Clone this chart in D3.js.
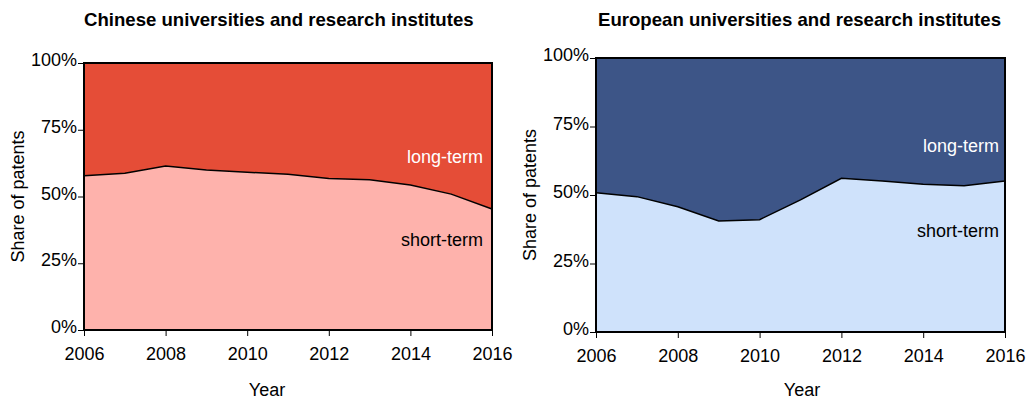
<!DOCTYPE html>
<html>
<head>
<meta charset="utf-8">
<script src="https://cdn.jsdelivr.net/npm/d3@7"></script>
<style>
    body { margin: 0; background: #fff; }
    text { font-family: "Liberation Sans", Arial, Helvetica, sans-serif; }
</style>
</head>
<body>
<script>

    // values: share of short-term patents per year
    var years = [2006, 2007, 2008, 2009, 2010, 2011, 2012, 2013, 2014, 2015, 2016];
    var chinaShort  = [57.8, 58.7, 61.4, 59.9, 59.1, 58.3, 56.7, 56.3, 54.3, 50.9, 45.3];
    var europeShort = [50.8, 49.4, 45.7, 40.5, 41.0, 48.2, 56.1, 55.1, 53.9, 53.4, 55.1];

    var xTicks = [2006, 2008, 2010, 2012, 2014, 2016];
    var yTicks = [0, 25, 50, 75, 100];
    var seriesNames = ["short-term", "long-term"];

    var panels = [
        {title: "Chinese universities and research institutes", values: chinaShort,
         left: 84, right: 492, top: 63, bottom: 330, yearX: 267, titleX: 84,
         colShort: "#FEB2AC", colLong: "#E54D37", longY: 163, shortY: 246, labelX: 483},
        {title: "European universities and research institutes", values: europeShort,
         left: 596, right: 1005, top: 58, bottom: 332, yearX: 802, titleX: 598,
         colShort: "#CFE2FB", colLong: "#3D5587", longY: 152, shortY: 237, labelX: 999}
    ];

    var svg = d3.select("body").append("svg")
                .attr("width", 1026)
                .attr("height", 402);

    panels.forEach(function(p) {

        var x = d3.scaleLinear()
                    .domain([2006, 2016])
                    .range([p.left, p.right]);

        var y = d3.scaleLinear()
                    .domain([0, 100])
                    .range([p.bottom, p.top]);

        var rows = years.map(function(yr, i) {
            return {year: yr, short: p.values[i], long: 100 - p.values[i]};
        });

        var stack = d3.stack().keys(["short", "long"]);
        var layers = stack(rows);

        var area = d3.area()
                    .x(function(d) { return x(d.data.year); })
                    .y0(function(d) { return y(d[0]); })
                    .y1(function(d) { return y(d[1]); });

        var g = svg.append("g");

        g.selectAll(".layer")
            .data(layers)
            .enter()
            .append("path")
            .attr("class", "layer")
            .attr("d", area)
            .attr("fill", function(d, i) { return i == 0 ? p.colShort : p.colLong; });

        // boundary between the two shares
        var line = d3.line()
                    .x(function(d) { return x(d.year); })
                    .y(function(d) { return y(d.short); });

        g.append("path")
            .datum(rows)
            .attr("d", line)
            .attr("fill", "none")
            .attr("stroke", "#000")
            .attr("stroke-width", 1.5);

        // frame
        g.append("rect")
            .attr("x", p.left)
            .attr("y", p.top)
            .attr("width", p.right - p.left)
            .attr("height", p.bottom - p.top)
            .attr("fill", "none")
            .attr("stroke", "#000")
            .attr("stroke-width", 2);

        var xAxis = d3.axisBottom(x)
                        .tickValues(xTicks)
                        .tickFormat(d3.format("d"))
                        .tickSize(6)
                        .tickPadding(11)
                        .tickSizeOuter(0);

        var gx = g.append("g")
                    .attr("transform", "translate(0," + p.bottom + ")")
                    .call(xAxis);
        gx.select(".domain").remove();
        gx.selectAll("text").attr("font-size", 18).attr("fill", "#000")
            .style("font-family", "'Liberation Sans', Arial, sans-serif");

        var yAxis = d3.axisLeft(y)
                        .tickValues(yTicks)
                        .tickFormat(function(d) { return d + "%"; })
                        .tickSize(6)
                        .tickPadding(1)
                        .tickSizeOuter(0);

        var gy = g.append("g")
                    .attr("transform", "translate(" + p.left + ",0)")
                    .call(yAxis);
        gy.select(".domain").remove();
        gy.selectAll("text").attr("font-size", 18).attr("fill", "#000").attr("dy", "0.15em")
            .style("font-family", "'Liberation Sans', Arial, sans-serif");

        g.append("text")
            .attr("x", p.titleX)
            .attr("y", 26)
            .attr("font-size", 18.6)
            .attr("font-weight", "bold")
            .text(p.title);

        g.append("text")
            .attr("x", p.yearX)
            .attr("y", 396)
            .attr("text-anchor", "middle")
            .attr("font-size", 18)
            .text("Year");

        g.append("text")
            .attr("transform", "translate(" + (p.left - 60) + "," + ((p.top + p.bottom) / 2) + ") rotate(-90)")
            .attr("text-anchor", "middle")
            .attr("font-size", 18)
            .text("Share of patents");

        g.append("text")
            .attr("x", p.labelX)
            .attr("y", p.longY)
            .attr("text-anchor", "end")
            .attr("font-size", 18)
            .attr("fill", "#fff")
            .text(seriesNames[1]);

        g.append("text")
            .attr("x", p.labelX)
            .attr("y", p.shortY)
            .attr("text-anchor", "end")
            .attr("font-size", 18)
            .attr("fill", "#000")
            .text(seriesNames[0]);
    });

</script>
</body>
</html>
